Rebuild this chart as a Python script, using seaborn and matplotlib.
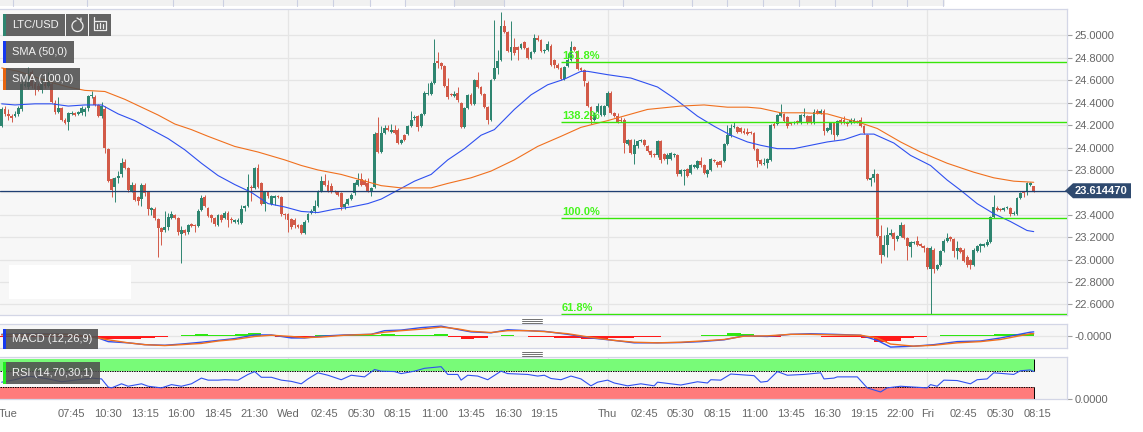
import numpy as np
import matplotlib
matplotlib.use('Agg')
import matplotlib.pyplot as plt
from matplotlib.patches import Rectangle, Polygon, Arc
import seaborn as sns

# 15 minute candles
opens = [24.19,24.34,24.30,24.28,24.28,24.30,24.34,24.55,24.54,24.67,
         24.57,24.55,24.51,24.57,24.55,24.57,24.40,24.32,24.35,24.25,
         24.23,24.30,24.31,24.30,24.31,24.32,24.35,24.46,24.45,24.38,
         24.28,24.34,23.99,23.72,23.65,23.73,23.76,23.87,23.82,23.61,
         23.67,23.56,23.54,23.67,23.60,23.44,23.45,23.36,23.28,23.26,
         23.29,23.37,23.40,23.37,23.23,23.26,23.25,23.32,23.31,23.30,
         23.44,23.56,23.46,23.40,23.37,23.31,23.40,23.37,23.42,23.36,
         23.34,23.34,23.33,23.46,23.48,23.65,23.64,23.82,23.68,23.50,
         23.60,23.50,23.55,23.57,23.56,23.41,23.41,23.36,23.35,23.31,
         23.31,23.24,23.35,23.42,23.43,23.48,23.61,23.70,23.67,23.66,
         23.61,23.60,23.59,23.47,23.50,23.54,23.59,23.67,23.72,23.70,
         23.68,23.61,23.65,24.13,23.96,24.13,24.17,24.14,24.16,24.16,
         24.04,24.11,24.12,24.19,24.26,24.28,24.19,24.30,24.48,24.48,
         24.58,24.77,24.75,24.73,24.55,24.48,24.46,24.49,24.40,24.18,
         24.35,24.47,24.39,24.60,24.54,24.48,24.36,24.25,24.61,24.71,
         24.78,25.08,25.03,24.85,24.90,24.90,24.89,24.94,24.89,24.80,
         24.85,24.98,24.96,24.86,24.87,24.91,24.78,24.74,24.71,24.61,
         24.73,24.78,24.90,24.86,24.71,24.69,24.58,24.36,24.25,24.32,
         24.29,24.29,24.37,24.49,24.31,24.28,24.25,24.25,24.03,24.07,
         23.94,24.01,24.06,24.07,24.01,23.97,23.94,23.93,24.06,23.94,
         23.90,23.90,23.93,23.93,23.76,23.79,23.81,23.77,23.83,23.82,
         23.88,23.84,23.76,23.80,23.89,23.87,23.88,23.88,24.03,24.10,
         24.18,24.18,24.17,24.15,24.14,24.14,24.13,23.99,23.89,23.85,
         23.86,23.89,24.21,24.21,24.28,24.30,24.27,24.22,24.22,24.24,
         24.22,24.28,24.28,24.28,24.22,24.33,24.31,24.33,24.15,24.16,
         24.22,24.11,24.25,24.25,24.23,24.22,24.23,24.24,24.25,24.19,
         24.11,23.71,23.73,23.76,23.21,23.04,23.13,23.22,23.24,23.18,
         23.21,23.31,23.19,23.11,23.15,23.17,23.14,23.12,23.10,22.92,
         23.09,22.92,22.95,23.08,23.17,23.20,23.18,23.08,23.10,23.09,
         23.02,23.00,22.95,23.08,23.12,23.12,23.13,23.16,23.38,23.46,
         23.45,23.44,23.46,23.46,23.41,23.41,23.55,23.60,23.60,23.67,23.66]
closes = [24.34,24.30,24.28,24.26,24.30,24.35,24.57,24.57,24.65,24.55,
          24.52,24.51,24.57,24.55,24.60,24.41,24.32,24.35,24.25,24.22,
          24.31,24.31,24.29,24.32,24.35,24.34,24.46,24.47,24.38,24.28,
          24.37,24.00,23.70,23.62,23.73,23.75,23.86,23.82,23.62,23.67,
          23.53,23.52,23.67,23.59,23.45,23.46,23.37,23.28,23.25,23.29,
          23.38,23.41,23.37,23.25,23.26,23.24,23.31,23.30,23.30,23.43,
          23.55,23.48,23.39,23.37,23.32,23.40,23.35,23.42,23.35,23.35,
          23.35,23.35,23.45,23.48,23.65,23.64,23.82,23.65,23.50,23.60,
          23.57,23.57,23.57,23.56,23.41,23.40,23.35,23.29,23.31,23.29,
          23.24,23.34,23.41,23.43,23.48,23.61,23.70,23.67,23.61,23.60,
          23.60,23.58,23.47,23.50,23.54,23.58,23.68,23.71,23.67,23.67,
          23.61,23.64,24.12,23.96,24.13,24.17,24.16,24.16,24.13,24.04,
          24.07,24.07,24.19,24.25,24.27,24.18,24.30,24.49,24.49,24.58,
          24.75,24.75,24.73,24.55,24.45,24.47,24.48,24.42,24.18,24.35,
          24.47,24.39,24.60,24.54,24.48,24.36,24.25,24.60,24.71,24.77,
          25.08,25.03,24.86,24.90,24.84,24.87,24.92,24.89,24.80,24.85,
          24.98,24.96,24.86,24.87,24.92,24.74,24.74,24.71,24.61,24.72,
          24.78,24.90,24.87,24.70,24.69,24.59,24.37,24.25,24.29,24.37,
          24.37,24.37,24.49,24.31,24.28,24.23,24.24,24.04,24.07,23.95,
          24.02,24.06,24.07,24.02,23.97,23.93,23.93,24.06,23.89,23.90,
          23.93,23.95,23.94,23.76,23.80,23.80,23.75,23.84,23.84,23.88,
          23.84,23.77,23.80,23.90,23.88,23.84,23.84,24.03,24.11,24.17,
          24.19,24.14,24.14,24.13,24.12,24.13,23.99,23.88,23.85,23.86,
          23.90,24.20,24.19,24.29,24.31,24.24,24.19,24.21,24.23,24.22,
          24.29,24.29,24.22,24.22,24.32,24.31,24.33,24.15,24.17,24.22,
          24.11,24.24,24.22,24.22,24.21,24.25,24.25,24.23,24.19,24.13,
          23.72,23.73,23.76,23.21,23.04,23.13,23.22,23.24,23.18,23.21,
          23.31,23.19,23.12,23.16,23.16,23.13,23.12,23.10,22.93,23.10,
          22.92,22.95,23.08,23.17,23.19,23.18,23.08,23.10,23.07,22.99,
          22.95,22.95,23.09,23.12,23.14,23.14,23.16,23.38,23.47,23.44,
          23.44,23.46,23.47,23.41,23.42,23.55,23.59,23.59,23.68,23.68,23.61]
highs = [24.36,24.37,24.34,24.30,24.33,24.37,24.60,24.60,24.72,24.69,
         24.59,24.58,24.60,24.62,24.67,24.60,24.42,24.45,24.36,24.26,
         24.32,24.33,24.32,24.33,24.37,24.36,24.47,24.50,24.47,24.39,
         24.41,24.37,24.00,23.73,23.74,23.79,23.91,23.90,23.83,23.69,
         23.68,23.57,23.68,23.68,23.61,23.47,23.47,23.37,23.29,23.43,
         23.42,23.43,23.41,23.38,23.30,23.27,23.32,23.33,23.32,23.45,
         23.58,23.58,23.47,23.41,23.38,23.41,23.41,23.43,23.43,23.38,
         23.36,23.37,23.49,23.49,23.76,23.67,23.83,23.85,23.69,23.61,
         23.61,23.58,23.58,23.58,23.57,23.42,23.42,23.37,23.37,23.32,
         23.32,23.35,23.42,23.45,23.53,23.62,23.75,23.76,23.71,23.68,
         23.62,23.61,23.60,23.51,23.55,23.59,23.69,23.77,23.77,23.72,
         23.73,23.65,24.14,24.27,24.19,24.20,24.20,24.21,24.20,24.17,
         24.08,24.12,24.20,24.33,24.29,24.29,24.31,24.50,24.58,24.59,
         24.97,24.85,24.76,24.74,24.62,24.49,24.50,24.54,24.41,24.36,
         24.48,24.49,24.61,24.67,24.55,24.49,24.37,24.61,25.14,24.87,
         25.21,25.14,25.04,25.13,24.98,24.91,24.93,24.95,24.90,24.86,
         25.01,25.00,24.97,24.88,24.95,24.92,24.79,24.75,24.72,24.73,
         24.84,24.95,24.91,24.87,24.72,24.70,24.59,24.37,24.32,24.40,
         24.38,24.38,24.50,24.50,24.32,24.31,24.27,24.26,24.08,24.08,
         24.08,24.07,24.08,24.08,24.02,23.98,23.95,24.07,24.07,23.95,
         23.95,23.96,23.95,23.94,23.81,23.81,23.82,23.85,23.85,23.89,
         23.92,23.85,23.81,23.91,23.90,23.88,23.89,24.04,24.20,24.21,
         24.23,24.19,24.18,24.17,24.17,24.15,24.14,24.00,23.90,23.91,
         23.91,24.21,24.23,24.30,24.39,24.31,24.28,24.23,24.24,24.25,
         24.30,24.35,24.29,24.29,24.34,24.34,24.34,24.34,24.18,24.23,
         24.23,24.25,24.26,24.28,24.24,24.26,24.26,24.25,24.27,24.20,
         24.12,23.74,23.81,23.77,23.31,23.22,23.29,23.27,23.25,23.22,
         23.34,23.32,23.20,23.17,23.17,23.21,23.15,23.13,23.11,23.12,
         23.10,22.96,23.09,23.18,23.24,23.21,23.19,23.17,23.11,23.10,
         23.04,23.01,23.10,23.13,23.15,23.15,23.18,23.39,23.58,23.48,
         23.46,23.47,23.48,23.47,23.43,23.56,23.60,23.61,23.69,23.69,23.66]
lows = [24.18,24.28,24.25,24.23,24.27,24.28,24.33,24.54,24.52,24.53,
        24.47,24.50,24.49,24.53,24.54,24.40,24.30,24.31,24.24,24.21,
        24.16,24.29,24.28,24.29,24.29,24.28,24.33,24.44,24.37,24.27,
        24.26,23.95,23.69,23.56,23.51,23.68,23.74,23.81,23.60,23.60,
        23.52,23.49,23.48,23.57,23.40,23.40,23.35,23.02,23.13,23.25,
        23.26,23.36,23.36,23.22,22.97,23.22,23.23,23.29,23.25,23.29,
        23.43,23.47,23.38,23.34,23.30,23.30,23.34,23.36,23.29,23.33,
        23.33,23.32,23.32,23.43,23.47,23.52,23.63,23.64,23.49,23.43,
        23.55,23.49,23.49,23.55,23.39,23.36,23.25,23.27,23.28,23.28,
        23.23,23.23,23.34,23.41,23.42,23.47,23.60,23.66,23.60,23.59,
        23.59,23.57,23.44,23.45,23.49,23.53,23.58,23.66,23.66,23.66,
        23.60,23.57,23.64,23.95,23.95,24.12,24.15,24.13,24.12,24.03,
        24.03,24.06,24.11,24.18,24.25,24.15,24.18,24.29,24.47,24.47,
        24.57,24.71,24.70,24.54,24.43,24.46,24.45,24.41,24.17,24.17,
        24.34,24.38,24.38,24.53,24.47,24.35,24.21,24.24,24.60,24.66,
        24.77,25.02,24.85,24.78,24.83,24.78,24.88,24.88,24.79,24.79,
        24.84,24.95,24.85,24.84,24.86,24.73,24.71,24.70,24.60,24.60,
        24.72,24.77,24.86,24.69,24.68,24.55,24.36,24.21,24.24,24.31,
        24.28,24.28,24.36,24.30,24.27,24.22,24.23,23.95,24.02,23.94,
        23.85,24.00,24.05,24.01,23.96,23.92,23.92,23.92,23.86,23.89,
        23.85,23.89,23.92,23.75,23.75,23.67,23.74,23.76,23.82,23.81,
        23.83,23.76,23.74,23.79,23.87,23.83,23.83,23.87,24.02,24.09,
        24.17,24.13,24.13,24.12,24.11,24.12,23.98,23.83,23.84,23.84,
        23.82,23.88,24.17,24.20,24.27,24.23,24.17,24.20,24.21,24.21,
        24.21,24.27,24.21,24.21,24.21,24.30,24.30,24.11,24.14,24.12,
        24.07,24.10,24.21,24.21,24.19,24.21,24.22,24.22,24.18,24.12,
        23.71,23.66,23.69,23.20,22.97,23.03,23.02,23.21,23.09,23.17,
        23.20,23.18,23.00,23.02,23.14,23.12,23.11,23.07,22.92,22.51,
        22.88,22.91,22.94,23.07,23.16,23.17,23.02,23.01,23.06,22.98,
        22.93,22.92,22.94,23.07,23.07,23.11,23.12,23.15,23.37,23.43,
        23.43,23.43,23.45,23.39,23.40,23.40,23.54,23.56,23.58,23.66,23.60]

sma50_idx = [0,4,10,15,20,25,30,35,40,45,50,55,60,65,70,75,80,85,90,95,100,105,110,114,
             119,124,129,134,139,144,148,154,159,164,169,174,176,182,189,197,202,209,214,219,224,228,
             233,238,243,248,253,258,262,268,273,279,284,288,293,298,303,308,310]
sma50 = [24.39,24.38,24.39,24.39,24.37,24.38,24.38,24.30,24.24,24.16,24.08,23.98,23.86,23.75,23.67,23.60,23.50,23.47,23.43,23.42,23.45,23.47,23.50,23.54,
         23.62,23.70,23.76,23.89,23.99,24.11,24.16,24.34,24.47,24.56,24.61,24.68,24.68,24.65,24.62,24.54,24.44,24.28,24.19,24.11,24.05,24.02,
         23.99,23.99,24.02,24.05,24.07,24.12,24.12,24.04,23.93,23.84,23.71,23.62,23.50,23.41,23.34,23.26,23.25]
sma100_idx = [0,5,10,15,20,25,31,37,42,47,52,57,62,70,77,85,90,95,102,108,114,
              120,129,134,141,147,154,161,168,174,182,188,194,204,211,218,224,228,
              234,241,248,254,258,263,270,276,284,292,298,304,310]
sma100 = [24.71,24.68,24.63,24.58,24.54,24.51,24.50,24.43,24.36,24.29,24.21,24.16,24.10,24.01,23.96,23.89,23.84,23.80,23.76,23.71,23.66,
          23.64,23.64,23.68,23.73,23.79,23.89,24.01,24.10,24.18,24.24,24.29,24.34,24.37,24.38,24.36,24.36,24.35,
          24.31,24.31,24.30,24.25,24.22,24.17,24.05,23.96,23.86,23.78,23.73,23.70,23.69]

fib_labels = ['161.8%', '138.2%', '100.0%', '61.8%']
fib_levels = [24.76, 24.23, 23.37, 22.515]
current_price = 23.61447

macd_idx = [0,11,21,29,32,38,43,49,54,60,65,70,76,81,87,91,96,103,111,115,120,126,132,137,141,147,152,158,163,170,
            177,184,190,197,204,210,217,223,230,237,243,250,258,263,267,274,280,287,294,300,309,310]
macd_line = [0.03,0.04,0.03,-0.03,-0.09,-0.11,-0.14,-0.15,-0.13,-0.10,-0.07,-0.04,0.02,0.02,-0.03,-0.03,0.0,0.02,0.03,0.09,0.10,0.14,0.165,0.11,0.07,0.055,0.105,0.09,0.08,0.03,
             -0.03,-0.07,-0.11,-0.11,-0.105,-0.09,-0.06,0.005,-0.005,0.03,0.04,0.03,0.015,-0.07,-0.18,-0.165,-0.14,-0.09,-0.08,-0.03,0.065,0.07]
macd_signal = [0.02,0.03,0.03,-0.03,-0.06,-0.11,-0.14,-0.155,-0.14,-0.12,-0.08,-0.055,-0.005,0.015,-0.005,-0.025,-0.015,0.015,0.03,0.065,0.09,0.115,0.15,0.12,0.08,0.06,0.09,0.09,0.075,0.04,
               -0.02,-0.07,-0.10,-0.11,-0.10,-0.08,-0.055,0.0,0.005,0.03,0.03,0.02,0.015,-0.03,-0.13,-0.165,-0.15,-0.11,-0.09,-0.055,0.04,0.04]
# one bar for every fourth candle
macd_hist = [-0.01,-0.01,-0.02,-0.02,-0.02,-0.02,-0.01,-0.03,-0.055,-0.05,-0.04,-0.03,-0.02,
             0.008,0.02,0.035,0.025,0.015,0.03,0.05,0.008,-0.012,-0.03,-0.03,0.015,0.025,0.025,
             0.015,0.015,0.03,0.025,0.015,0.015,0.03,-0.012,-0.05,-0.03,0.008,0.025,0.008,
             -0.006,-0.006,-0.03,-0.035,-0.04,-0.04,-0.035,-0.03,-0.02,-0.012,0.004,0.006,0.008,
             0.012,0.018,0.045,0.04,-0.012,-0.006,-0.004,0.004,-0.005,-0.008,-0.008,-0.008,-0.03,
             -0.09,-0.08,-0.03,-0.006,0.004,0.025,0.025,0.015,0.02,0.03,0.035,0.04]

rsi_idx = [0,4,8,14,18,22,27,30,32,33,36,38,42,44,48,51,54,57,60,62,65,67,71,74,76,78,81,84,87,90,92,95,98,102,105,109,
           112,114,118,120,124,127,132,134,137,138,140,143,146,150,152,158,161,163,165,168,171,
           174,177,179,182,184,188,192,196,197,200,204,209,212,213,216,219,226,228,230,233,236,241,246,247,250,251,257,
           260,264,266,270,278,279,281,283,287,291,293,296,298,304,306,309,310]
rsi_values = [42,48,57,50,43,47,52,50,30,28,38,32,38,32,28,36,32,38,52,47,47,48,47,61,68,54,54,47,44,38,50,65,59,48,59,55,
              73,69,68,63,69,76,80,61,61,47,59,57,48,69,63,61,57,59,51,48,57,
              50,33,42,47,40,33,38,33,42,39,35,43,40,48,47,62,58,42,44,68,59,61,65,50,52,55,55,
              28,18,28,32,28,36,32,47,46,38,48,50,65,61,70,72,68]
rsi_high = 70
rsi_low = 30

price_ticks = [22.6,22.8,23.0,23.2,23.4,23.6,23.8,24.0,24.2,24.4,24.6,24.8,25.0]
time_idx = [2,21,32,43,54,65,76,86,97,108,119,130,141,152,163,182,193,204,215,226,237,248,259,270,278,289,300,311]
time_labels = ['Tue','07:45','10:30','13:15','16:00','18:45','21:30','Wed','02:45','05:30','08:15','11:00','13:45',
               '16:30','19:15','Thu','02:45','05:30','08:15','11:00','13:45','16:30','19:15','22:00','Fri','02:45','05:30','08:15']
day_idx = [86, 182, 278]

GREEN = '#2e8570'
RED = '#d25a48'
BLUE = '#2f50f0'
ORANGE = '#f0701e'
GRID = '#e5e5e5'
EDGE = '#d3d6e6'
LABEL = '#666666'
FIB = '#38e60a'
NAVY = '#1f3f73'

W, H = 1143, 432
sns.set_theme(style='white', rc={'axes.facecolor': '#f7f7f7', 'figure.facecolor': 'white'})
plt.rcParams['font.family'] = ['Liberation Sans', 'DejaVu Sans']

fig = plt.figure(figsize=(W / 100, H / 100), dpi=100)

def pane(top, bottom, right=1067):
    ax = fig.add_axes([0, 1 - bottom / H, right / W, (bottom - top) / H])
    ax.set_xlim(-0.5, 320)
    for side in ['top', 'bottom', 'right']:
        ax.spines[side].set_color(EDGE)
        ax.spines[side].set_linewidth(0.9)
    ax.spines['left'].set_visible(False)
    ax.yaxis.tick_right()
    ax.tick_params(axis='y', length=3.6, width=0.8, color='#a0a0a0', pad=1.6, labelsize=8, labelcolor=LABEL)
    ax.tick_params(axis='x', length=0)
    ax.set_xticks([])
    for d in day_idx:
        ax.axvline(d, color=GRID, lw=0.9, zorder=1)
    return ax

ax = pane(9, 315)
ax_macd = pane(324, 348.3)
ax_rsi = pane(357.3, 399.3)

# main pane, the tag covers the 23.6 label so that one stays empty
ax.set_ylim(22.506, 25.236)
ax.set_yticks(price_ticks)
ax.set_yticklabels(['' if t == 23.6 else f'{t:.4f}' for t in price_ticks])
ax.grid(axis='y', color=GRID, lw=0.9)
ax.set_axisbelow(True)

idx = np.arange(len(closes))
o, c, hi, lo = map(np.array, (opens, closes, highs, lows))
up = c >= o
for mask, col in ((up, GREEN), (~up, RED)):
    ax.vlines(idx[mask], lo[mask], hi[mask], color=col, lw=0.7, zorder=3)
    ax.bar(idx[mask], np.abs(c - o)[mask], bottom=np.minimum(o, c)[mask], width=0.85, color=col, lw=0, zorder=3)

sns.lineplot(x=sma50_idx, y=sma50, ax=ax, color=BLUE, lw=0.8, zorder=4)
sns.lineplot(x=sma100_idx, y=sma100, ax=ax, color=ORANGE, lw=0.8, zorder=4)

ax.axhline(current_price, color=NAVY, lw=0.9, zorder=5)
for lab, lev in zip(fib_labels, fib_levels):
    ax.hlines(lev, 168, 320, color=FIB, lw=1.0, zorder=5)
    ax.annotate(lab, xy=(168, lev), xytext=(1, 1), textcoords='offset pixels', color='#45f51c',
                fontsize=8, fontweight='bold', va='bottom', ha='left', zorder=6, annotation_clip=False)
ax.set_xlabel('')
ax.set_ylabel('')

# macd pane
ax_macd.set_ylim(-0.2, 0.2)
ax_macd.set_yticks([0])
ax_macd.set_yticklabels(['-0.0000'])
ax_macd.axhline(0, color=GRID, lw=0.9, zorder=1)
hist_idx = np.arange(len(macd_hist)) * 4
hist = np.array(macd_hist)
ax_macd.bar(hist_idx[hist < 0], hist[hist < 0], width=4, color='#ff1a1a', lw=0, zorder=2)
ax_macd.bar(hist_idx[hist >= 0], hist[hist >= 0], width=4, color='#2fe612', lw=0, zorder=2)
sns.lineplot(x=macd_idx, y=macd_line, ax=ax_macd, color=BLUE, lw=1.0, zorder=3)
sns.lineplot(x=macd_idx, y=macd_signal, ax=ax_macd, color=ORANGE, lw=1.0, zorder=4)
ax_macd.set_xlabel('')
ax_macd.set_ylabel('')

# rsi pane
ax_rsi.set_ylim(0, 103)
ax_rsi.set_yticks([0])
ax_rsi.set_yticklabels(['0.0000'])
ax_rsi.fill_between([-0.5, 310], rsi_high, 100, color='#78fb78', lw=0, zorder=2)
ax_rsi.fill_between([-0.5, 310], 0, rsi_low, color='#ff7b7b', lw=0, zorder=2)
ax_rsi.hlines([rsi_high, rsi_low], -0.5, 310, color='black', lw=0.7, ls=(0, (1.5, 1)), zorder=3)
ax_rsi.vlines(310, 0, rsi_low, color='black', lw=0.7, zorder=3)
ax_rsi.vlines(310, rsi_high, 100, color='black', lw=0.7, zorder=3)
sns.lineplot(x=rsi_idx, y=rsi_values, ax=ax_rsi, color=BLUE, lw=0.8, zorder=4)
ax_rsi.set_xticks(time_idx)
ax_rsi.set_xticklabels(time_labels)
ax_rsi.tick_params(axis='x', length=2.2, width=0.8, color='#a0a0a0', pad=4.7, labelsize=8, labelcolor=LABEL)
ax_rsi.set_xlabel('')
ax_rsi.set_ylabel('')

# page furniture on top, in pixel coordinates
top = fig.add_axes([0, 0, 1, 1], zorder=10)
top.set_xlim(0, W)
top.set_ylim(H, 0)
top.axis('off')

def box(x0, y0, x1, y1, color, alpha=1.0):
    top.add_patch(Rectangle((x0, y0), x1 - x0, y1 - y0, fc=color, ec='none', alpha=alpha))

box(0, 0, 945, 6, '#f1f1f1')
box(370, 0, 405, 6, '#f7f7f7')
box(455, 0, 504, 6, '#e6e6e6')
for sx in [13, 87, 173, 223, 297, 333, 370, 405, 454, 504, 623, 692, 727, 763, 799, 835, 872, 907, 943]:
    top.plot([sx, sx], [0, 6], color='#ccd0e2', lw=0.8)

box(9, 265, 131, 299, 'white')

DARK = '#4f4f4f'
legend_items = [('LTC/USD', 14, 36, 65, GREEN), ('SMA (50,0)', 41, 63, 74, '#1438f0'), ('SMA (100,0)', 68, 90, 80, '#e8650f'),
                ('MACD (12,26,9)', 329, 349, 98, '#1438f0'), ('RSI (14,70,30,1)', 362, 384, 100, '#22f022')]
for name, y0, y1, x1, col in legend_items:
    box(3, y0, x1, y1, DARK, 0.88)
    box(3, y0, 6, y1, col)
    top.text(12, (y0 + y1) / 2, name, color='#f2f2f2', fontsize=8, va='center', ha='left')

box(66, 14, 88, 36, DARK, 0.88)
box(89, 14, 111, 36, DARK, 0.88)
top.add_patch(Arc((77.5, 26), 11, 11, theta1=300, theta2=620, color='#eeeeee', lw=0.9))
top.plot([77, 81, 81], [18, 20.5, 18], color='#eeeeee', lw=0.9)
top.plot([94, 106, 106, 94, 94], [21, 21, 30, 30, 21], color='#eeeeee', lw=0.9)
top.plot([97, 97], [24, 28], color='#eeeeee', lw=0.9)
top.plot([100, 100], [23, 28], color='#eeeeee', lw=0.9)
top.plot([103, 103], [24, 28], color='#eeeeee', lw=0.9)
top.plot([94, 94], [17, 21], color='#eeeeee', lw=0.9)

for y0 in (318.5, 351.8):
    for dy in (0, 2, 4):
        top.plot([522, 542], [y0 + dy, y0 + dy], color='#707070', lw=0.7)

# price tag follows the last price on the main axis
pix = ax.transData.transform((0, current_price))[1]
tag_y = H - pix
top.add_patch(Polygon([(1065, tag_y), (1073, tag_y - 7.5), (1131, tag_y - 7.5), (1131, tag_y + 7.5), (1073, tag_y + 7.5)],
                      fc='#2f4a6f', ec='none'))
top.text(1075, tag_y, f'{current_price:.6f}', color='white', fontsize=8, fontweight='bold', va='center', ha='left')

fig.savefig('out.png', dpi=100)
